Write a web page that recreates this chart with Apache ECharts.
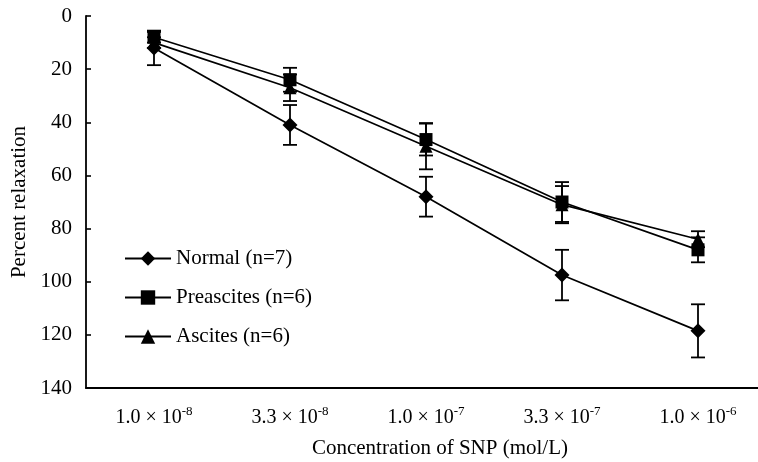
<!DOCTYPE html>
<html>
<head>
<meta charset="utf-8">
<style>
  html, body { margin: 0; padding: 0; background: #fff; }
  #chart { width: 758px; height: 462px; }
</style>
<script src="https://cdn.jsdelivr.net/npm/echarts@6/dist/echarts.min.js"></script>
</head>
<body>
<div id="chart"></div>
<script>
  // concentrations, written as mantissa^exponent
  const categories = ['1.0 × 10^-8', '3.3 × 10^-8', '1.0 × 10^-7', '3.3 × 10^-7', '1.0 × 10^-6']
  const yTicks = [0, 20, 40, 60, 80, 100, 120, 140]

  const normal = [12, 41, 68, 97.5, 118.5]
  const normalErr = [6.5, 7.5, 7.5, 9.5, 10]
  const preascites = [8, 24, 46.5, 70, 88]
  const preascitesErr = [2, 4.5, 6, 7.5, 4.7]
  const ascites = [10, 27, 49, 71, 84]
  const ascitesErr = [2, 5, 8.7, 7, 3]

  const FONT = '"Liberation Serif", "Times New Roman", serif'

  function errData (vals, errs) {
    return vals.map((v, i) => [i, v - errs[i], v + errs[i]])
  }

  function errSeries (name, vals, errs) {
    return {
      name: name + ' err',
      type: 'custom',
      z: 1,
      silent: true,
      data: errData(vals, errs),
      renderItem: function (params, api) {
        const lo = api.coord([api.value(0), api.value(1)])
        const hi = api.coord([api.value(0), api.value(2)])
        const w = 7
        const st = { stroke: '#000', lineWidth: 1.8 }
        return {
          type: 'group',
          children: [
            { type: 'line', shape: { x1: lo[0], y1: lo[1], x2: hi[0], y2: hi[1] }, style: st },
            { type: 'line', shape: { x1: lo[0] - w, y1: lo[1], x2: lo[0] + w, y2: lo[1] }, style: st },
            { type: 'line', shape: { x1: hi[0] - w, y1: hi[1], x2: hi[0] + w, y2: hi[1] }, style: st }
          ]
        }
      }
    }
  }

  function lineSeries (name, vals, symbol, size) {
    return {
      name: name,
      type: 'line',
      z: 3,
      data: vals,
      symbol: symbol,
      symbolSize: size,
      showAllSymbol: true,
      lineStyle: { color: '#000', width: 1.7 },
      itemStyle: { color: '#000' }
    }
  }

  const chart = echarts.init(document.getElementById('chart'))
  chart.setOption({
    animation: false,
    backgroundColor: '#fff',
    grid: { left: 86, top: 16, width: 680, height: 372, containLabel: false, outerBoundsMode: 'none' },
    legend: {
      orient: 'vertical',
      left: 119,
      top: 243,
      itemWidth: 46,
      itemHeight: 18,
      itemGap: 18,
      data: ['Normal (n=7)', 'Preascites (n=6)', 'Ascites (n=6)'],
      textStyle: { fontFamily: FONT, fontSize: 21, color: '#000' }
    },
    xAxis: {
      type: 'category',
      data: categories,
      boundaryGap: true,
      position: 'bottom',
      name: 'Concentration of SNP (mol/L)',
      nameLocation: 'middle',
      nameGap: 50,
      nameTextStyle: { fontFamily: FONT, fontSize: 21, color: '#000', padding: [0, 0, 0, 28] },
      axisLine: { onZero: false, lineStyle: { color: '#000', width: 1.8 } },
      axisTick: { inside: true, length: 5, lineStyle: { color: '#000', width: 1.6 } },
      axisLabel: {
        interval: 0,
        margin: 17,
        color: '#000',
        fontFamily: FONT,
        fontSize: 20,
        formatter: function (v) {
          const p = v.split('^')
          return p[0] + '{sup|' + p[1] + '}'
        },
        rich: {
          sup: { fontFamily: FONT, fontSize: 13, verticalAlign: 'top', padding: [0, 0, 12, 0], color: '#000' }
        }
      },
      splitLine: { show: false }
    },
    yAxis: {
      type: 'value',
      inverse: true,
      min: yTicks[0],
      max: yTicks[yTicks.length - 1],
      interval: 20,
      name: 'Percent relaxation',
      nameLocation: 'middle',
      nameGap: 56,
      nameTextStyle: { fontFamily: FONT, fontSize: 21, color: '#000' },
      axisLine: { show: true, lineStyle: { color: '#000', width: 1.8 } },
      axisTick: { show: true, inside: true, length: 5, lineStyle: { color: '#000', width: 1.6 } },
      axisLabel: { color: '#000', fontFamily: FONT, fontSize: 21, margin: 14 },
      splitLine: { show: false }
    },
    series: [
      errSeries('Normal', normal, normalErr),
      errSeries('Preascites', preascites, preascitesErr),
      errSeries('Ascites', ascites, ascitesErr),
      lineSeries('Normal (n=7)', normal, 'diamond', 15),
      lineSeries('Preascites (n=6)', preascites, 'rect', 13),
      lineSeries('Ascites (n=6)', ascites, 'triangle', 13)
    ]
  })
</script>
</body>
</html>
